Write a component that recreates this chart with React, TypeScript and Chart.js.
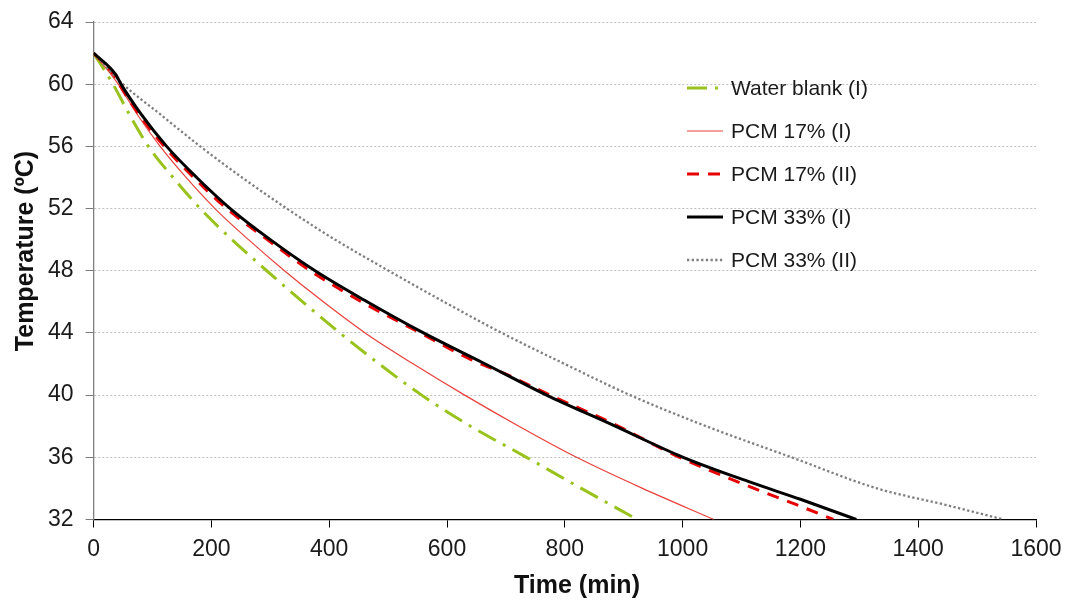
import { useEffect, useRef } from "react";
import { Chart, registerables } from "chart.js";

Chart.register(...registerables);

// ---- Data ----
const seriesNames = [
  "Water blank (I)",
  "PCM 17% (I)",
  "PCM 17% (II)",
  "PCM 33% (I)",
  "PCM 33% (II)",
];

const waterBlankTime = [0, 33, 60, 93, 135, 181, 235, 294, 355, 418, 485, 557, 640, 735, 828, 923];
const waterBlankTemp = [62, 60, 58.1, 56, 54, 52, 50, 48, 46, 44, 42, 40, 38, 36, 34, 32];

const pcm17ITime = [0, 40, 75, 113, 157, 206, 263, 324, 390, 461, 543, 630, 722, 820, 932, 1053];
const pcm17ITemp = [62, 60.1, 58, 56, 54, 52, 50, 48, 46, 44, 42, 40, 38, 36, 34, 32];

const pcm17IITime = [0, 38, 45, 80, 120, 170, 226, 295, 368, 455, 555, 640, 700, 775, 880, 995, 1115, 1190, 1256];
const pcm17IITemp = [62, 60.4, 59.9, 57.9, 56, 54, 52, 50, 48, 46, 44, 42.3, 41.35, 40, 38.2, 36, 34.1, 33, 32];

const pcm33ITime = [0, 38, 45, 80, 124, 175, 232, 300, 376, 460, 560, 660, 769, 880, 1001, 1115, 1200, 1295];
const pcm33ITemp = [62, 60.6, 60.1, 58.1, 56, 54, 52, 50, 48, 46.1, 44, 42.1, 40, 38.1, 36, 34.4, 33.3, 32];

const pcm33IITime = [0, 50, 112, 181, 252, 328, 410, 501, 595, 693, 800, 911, 1040, 1185, 1330, 1440, 1545];
const pcm33IITemp = [62, 60, 58.1, 56, 54, 52, 50, 48, 46, 44, 42, 40, 38, 36, 34, 33, 32];

const xTickValues = [0, 200, 400, 600, 800, 1000, 1200, 1400, 1600];
const yTickValues = [32, 36, 40, 44, 48, 52, 56, 60, 64];

const xTitle = "Time (min)";
const yTitle = "Temperature (ºC)";

const FONT = '"Liberation Sans", Arial, Helvetica, sans-serif';

const toPoints = (xs: number[], ys: number[]) => xs.map((x, i) => ({ x, y: ys[i] }));

const overlayPlugin = {
  id: "overlay",
  afterDraw(chart: any) {
    const ctx: CanvasRenderingContext2D = chart.ctx;
    ctx.save();
    // axis titles
    ctx.fillStyle = "#111";
    ctx.font = `bold 25px ${FONT}`;
    ctx.textAlign = "center";
    ctx.textBaseline = "middle";
    ctx.fillText(xTitle, 577, 586);
    ctx.save();
    ctx.translate(26, 251);
    ctx.rotate(-Math.PI / 2);
    ctx.fillText(yTitle, 0, 0);
    ctx.restore();

    // legend
    const rowY = [88, 131, 174, 217, 260];
    const x0 = 687;
    const x1 = 723;
    chart.data.datasets.forEach((ds: any, i: number) => {
      const y = rowY[i];
      ctx.save();
      ctx.strokeStyle = ds.borderColor;
      ctx.lineWidth = ds.borderWidth;
      ctx.setLineDash(ds.borderDash || []);
      ctx.beginPath();
      ctx.moveTo(x0, y);
      ctx.lineTo(x1, y);
      ctx.stroke();
      ctx.restore();
      ctx.fillStyle = "#1a1a1a";
      ctx.font = `21px ${FONT}`;
      ctx.textAlign = "left";
      ctx.textBaseline = "middle";
      ctx.fillText(ds.label, 731, y + 1);
    });
    ctx.restore();
  },
};

export default function App() {
  const canvasRef = useRef<HTMLCanvasElement | null>(null);

  useEffect(() => {
    if (!canvasRef.current) return;
    Chart.defaults.font.family = FONT;
    const chart = new Chart(canvasRef.current, {
      type: "line",
      data: {
        datasets: [
          {
            label: seriesNames[0],
            data: toPoints(waterBlankTime, waterBlankTemp),
            borderColor: "#99c31c",
            borderWidth: 3,
            borderDash: [20, 8, 3, 8],
            order: 4,
          },
          {
            label: seriesNames[1],
            data: toPoints(pcm17ITime, pcm17ITemp),
            borderColor: "#e8403a",
            borderWidth: 1.2,
            borderDash: [],
            order: 3,
          },
          {
            label: seriesNames[2],
            data: toPoints(pcm17IITime, pcm17IITemp),
            borderColor: "#e60000",
            borderWidth: 3,
            borderDash: [12, 9],
            order: 2,
          },
          {
            label: seriesNames[3],
            data: toPoints(pcm33ITime, pcm33ITemp),
            borderColor: "#000000",
            borderWidth: 3,
            borderDash: [],
            order: 0,
          },
          {
            label: seriesNames[4],
            data: toPoints(pcm33IITime, pcm33IITemp),
            borderColor: "#7f7f7f",
            borderWidth: 2.3,
            borderDash: [2.3, 2.4],
            order: 1,
          },
        ].map((d) => ({
          ...d,
          pointRadius: 0,
          pointHoverRadius: 0,
          fill: false,
          cubicInterpolationMode: "monotone" as const,
        })),
      },
      options: {
        responsive: false,
        animation: false,
        layout: { padding: { top: 22, right: 33, left: 0, bottom: 0 } },
        plugins: {
          legend: { display: false },
          tooltip: { enabled: false },
          title: { display: false },
        },
        scales: {
          x: {
            type: "linear",
            min: 0,
            max: 1600,
            afterBuildTicks: (scale: any) => {
              scale.ticks = xTickValues.map((v) => ({ value: v }));
            },
            afterFit: (scale: any) => {
              scale.height = 86.5;
              scale.paddingLeft = 0;
              scale.paddingRight = 0;
            },
            grid: {
              drawOnChartArea: false,
              drawTicks: true,
              tickLength: 8,
              tickColor: "#000",
              tickWidth: 1,
            },
            border: { display: true, color: "#000", width: 1.3 },
            ticks: {
              font: { size: 23, family: FONT },
              color: "#1a1a1a",
              padding: 8,
              maxRotation: 0,
              autoSkip: false,
              callback: (v: any) => String(v),
            },
          },
          y: {
            type: "linear",
            min: 32,
            max: 64,
            afterBuildTicks: (scale: any) => {
              scale.ticks = yTickValues.map((v) => ({ value: v }));
            },
            afterFit: (scale: any) => {
              scale.width = 93.6;
              scale.paddingTop = 0;
              scale.paddingBottom = 0;
            },
            grid: {
              color: "#bdbdbd",
              lineWidth: 1,
              drawTicks: true,
              tickLength: 8,
              tickColor: "#7a7a7a",
              tickWidth: 1,
              tickBorderDash: [],
            },
            border: { display: true, color: "#808080", width: 1.3, dash: [2, 2] },
            ticks: {
              font: { size: 23, family: FONT },
              color: "#1a1a1a",
              padding: 12,
              autoSkip: false,
              callback: (v: any) => String(v),
            },
          },
        },
      },
      plugins: [overlayPlugin],
    });
    return () => chart.destroy();
  }, []);

  return (
    <div style={{ position: "fixed", left: 0, top: 0, width: 1069, height: 606, background: "#fff" }}>
      <canvas ref={canvasRef} width={1069} height={606} />
    </div>
  );
}
